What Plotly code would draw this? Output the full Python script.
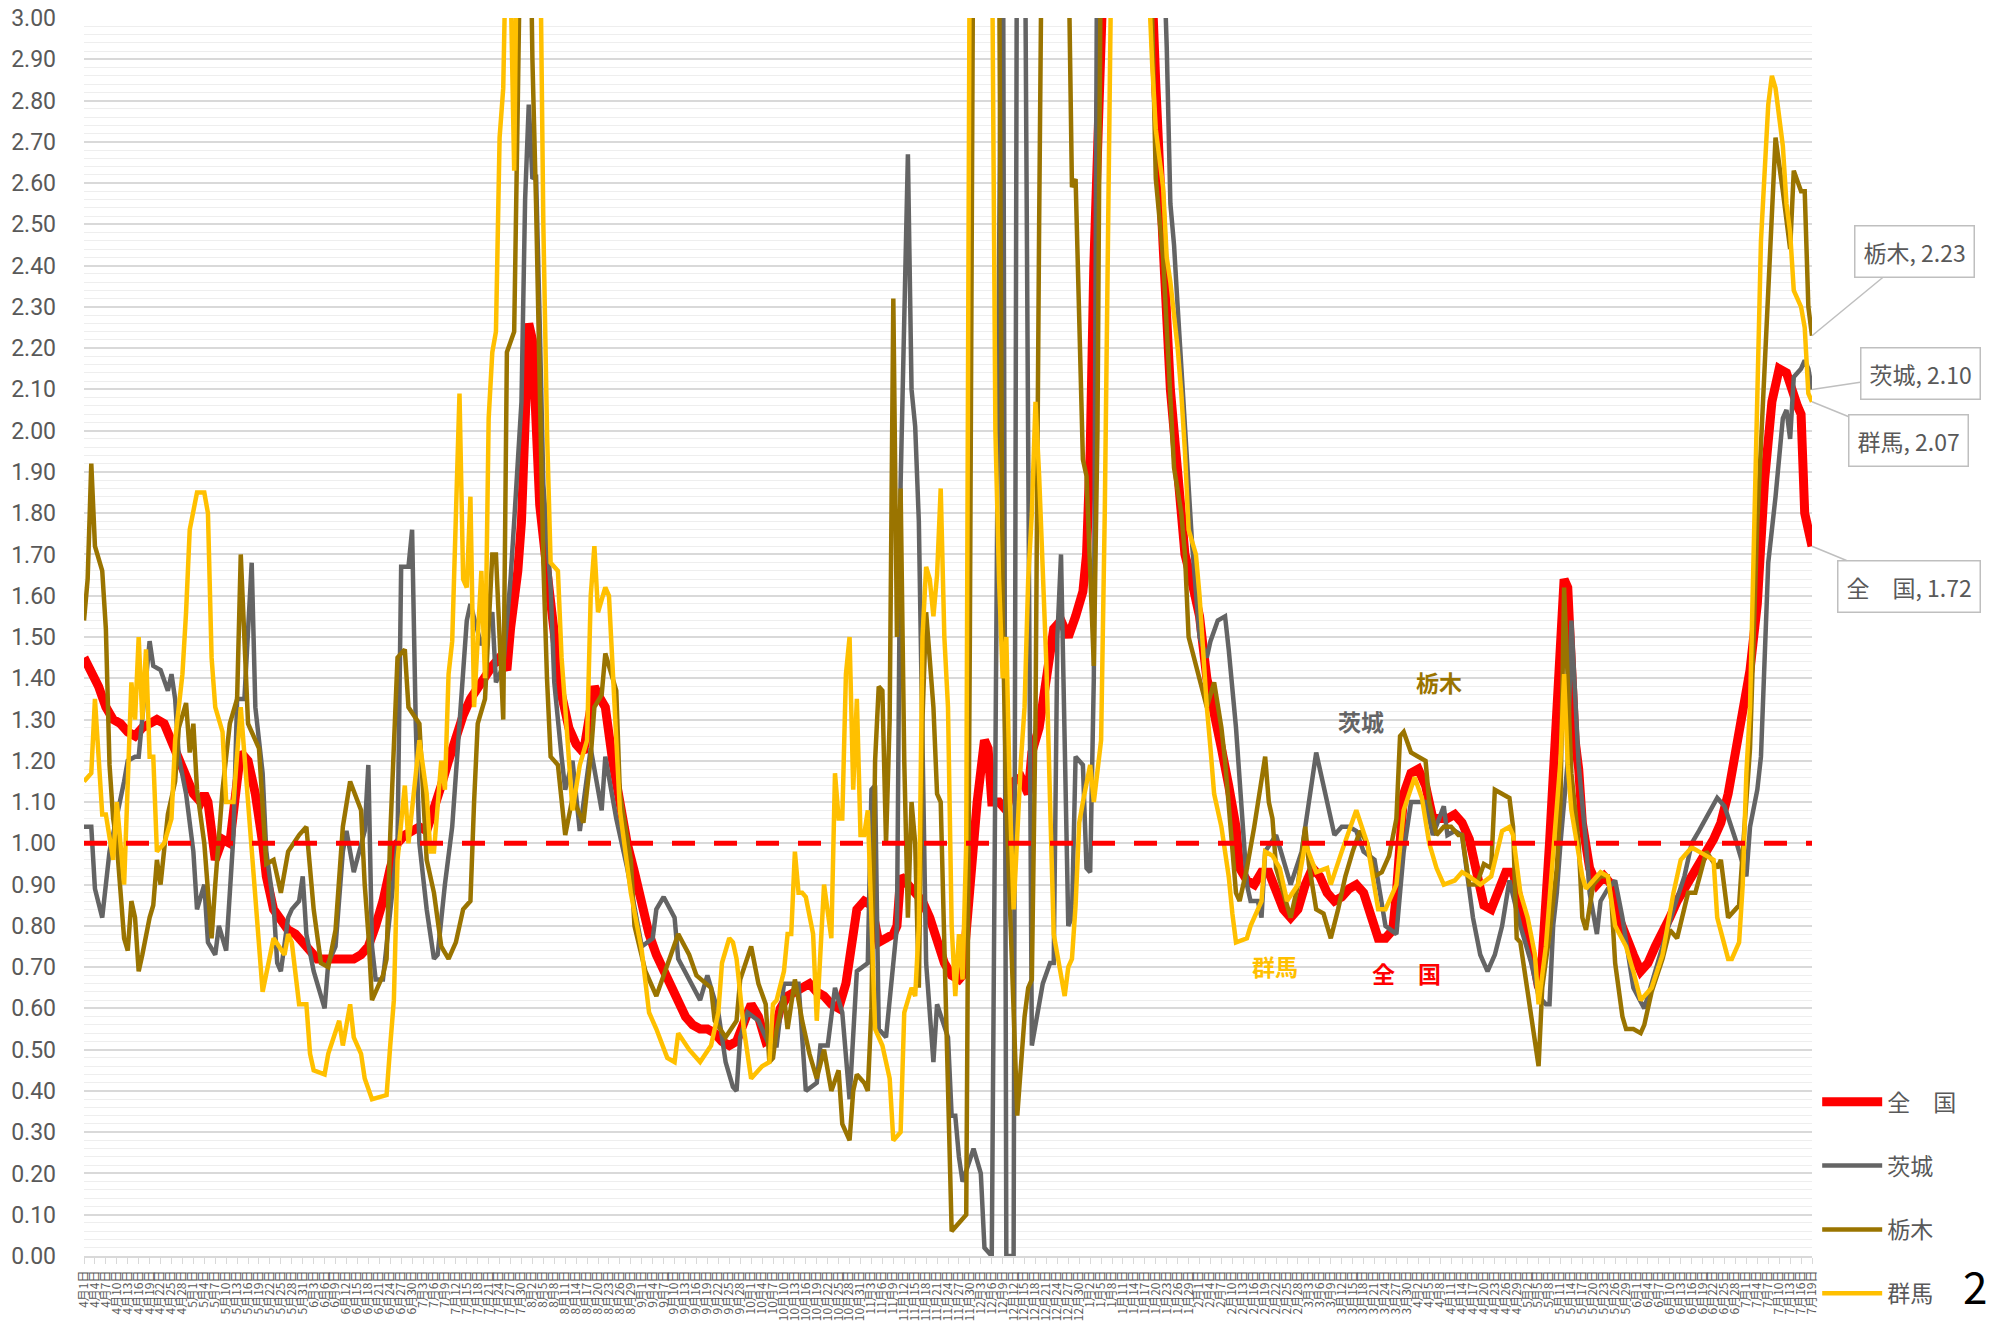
import datetime as dt
import plotly.graph_objects as go

START = dt.date(2020, 4, 1)
LAST_DAY = 474            # 2021-07-19
TICK_STEP = 3             # a label every 3 days
THRESHOLD = 1.0
Y_TICKS = [i / 10 for i in range(0, 31)]

SERIES_NAMES = ["全　国", "茨城", "栃木", "群馬"]
SERIES_COLORS = ["#FF0000", "#646464", "#9A7400", "#FFC000"]
SERIES_WIDTHS = [9, 4.5, 4.5, 4.5]

# (day offset from 2020-04-01, effective reproduction number)
ZENKOKU = [(0,1.45),(2,1.42),(4,1.38),(6,1.33),(8,1.30),(10,1.29),(12,1.27),(14,1.26),(16,1.28),(18,1.29),(20,1.30),(22,1.29),(24,1.25),(26,1.20),(28,1.16),(30,1.12),(32,1.10),(33,1.12),(34,1.10),(35,1.04),(36,0.96),(38,1.01),(40,1.00),(42,1.15),(43,1.22),(45,1.20),(47,1.12),(49,1.00),(50,0.92),(52,0.84),(54,0.81),(56,0.79),(58,0.78),(60,0.76),(62,0.74),(64,0.72),(66,0.72),(68,0.72),(70,0.72),(72,0.72),(74,0.72),(76,0.73),(78,0.75),(80,0.80),(82,0.86),(84,0.94),(86,1.00),(88,1.02),(90,1.03),(92,1.04),(94,1.03),(96,1.08),(98,1.14),(100,1.20),(102,1.26),(104,1.31),(106,1.35),(108,1.38),(110,1.40),(112,1.43),(114,1.45),(116,1.42),(117,1.52),(119,1.66),(120,1.78),(121,2.10),(122,2.26),(123,2.22),(124,1.97),(125,1.82),(127,1.66),(129,1.50),(131,1.36),(133,1.28),(135,1.24),(137,1.22),(138,1.28),(140,1.38),(141,1.36),(143,1.33),(145,1.20),(147,1.09),(149,1.00),(151,0.93),(153,0.85),(155,0.78),(157,0.73),(159,0.69),(161,0.65),(163,0.61),(165,0.58),(167,0.56),(169,0.55),(171,0.55),(173,0.54),(175,0.52),(177,0.51),(179,0.52),(181,0.56),(183,0.61),(185,0.58),(187,0.52),(189,0.53),(191,0.60),(193,0.63),(195,0.64),(197,0.65),(199,0.66),(201,0.64),(203,0.63),(205,0.61),(207,0.60),(209,0.66),(210,0.71),(212,0.84),(214,0.86),(216,0.85),(218,0.76),(220,0.77),(222,0.78),(223,0.80),(224,0.92),(226,0.90),(228,0.88),(230,0.86),(232,0.82),(234,0.77),(236,0.71),(238,0.68),(240,0.67),(241,0.68),(243,0.90),(245,1.10),(247,1.25),(248,1.23),(249,1.10),(251,1.10),(253,1.08),(255,1.15),(257,1.16),(259,1.12),(260,1.22),(262,1.28),(264,1.40),(266,1.52),(268,1.54),(270,1.50),(272,1.55),(274,1.61),(275,1.70),(276,1.95),(277,2.40),(278,2.85),(279,3.15),(281,3.80),(284,4.30),(287,4.40),(290,4.00),(292,3.30),(293,3.00),(294,2.84),(296,2.45),(298,2.10),(300,1.90),(302,1.70),(304,1.63),(306,1.55),(308,1.40),(310,1.30),(312,1.23),(314,1.14),(316,1.04),(317,0.94),(319,0.91),(321,0.90),(323,0.93),(325,0.93),(327,0.88),(329,0.84),(331,0.82),(333,0.84),(335,0.90),(337,0.94),(339,0.92),(341,0.88),(343,0.86),(345,0.87),(347,0.89),(349,0.90),(351,0.88),(353,0.83),(355,0.77),(357,0.77),(359,0.79),(360,0.88),(361,1.05),(362,1.12),(364,1.17),(366,1.18),(368,1.14),(370,1.06),(372,1.06),(374,1.06),(376,1.07),(378,1.05),(380,1.01),(382,0.92),(384,0.85),(386,0.84),(388,0.89),(390,0.93),(392,0.93),(394,0.86),(396,0.79),(398,0.70),(399,0.65),(400,0.72),(402,1.00),(403,1.17),(404,1.40),(405,1.55),(406,1.64),(407,1.62),(408,1.40),(409,1.25),(410,1.18),(411,1.05),(413,0.94),(415,0.90),(417,0.92),(419,0.90),(421,0.82),(423,0.77),(425,0.73),(427,0.69),(429,0.71),(431,0.75),(433,0.78),(435,0.82),(437,0.86),(439,0.89),(441,0.92),(443,0.94),(445,0.98),(447,1.01),(449,1.05),(451,1.12),(453,1.22),(455,1.33),(457,1.42),(459,1.58),(461,1.88),(463,2.07),(465,2.15),(467,2.14),(469,2.08),(470,2.06),(471,2.04),(472,1.80),(473,1.76),(474,1.72)]

IBARAKI = [(0,1.04),(2,1.04),(3,0.89),(5,0.82),(7,0.98),(9,1.06),(11,1.15),(12,1.20),(14,1.21),(15,1.21),(16,1.30),(18,1.49),(19,1.43),(21,1.42),(23,1.37),(24,1.41),(25,1.35),(26,1.21),(28,1.12),(30,0.98),(31,0.84),(33,0.90),(34,0.76),(36,0.73),(37,0.80),(39,0.74),(41,1.02),(42,1.35),(44,1.35),(46,1.68),(47,1.33),(49,1.17),(50,0.98),(52,0.85),(53,0.71),(54,0.69),(56,0.82),(57,0.84),(59,0.86),(60,0.92),(61,0.78),(63,0.69),(66,0.60),(67,0.71),(69,0.75),(70,0.86),(71,0.98),(72,1.03),(74,0.93),(77,1.03),(78,1.19),(79,0.75),(80,0.67),(82,0.67),(84,0.84),(86,1.00),(87,1.67),(89,1.67),(90,1.76),(91,1.29),(92,1.00),(94,0.84),(96,0.72),(97,0.73),(99,0.90),(101,1.04),(103,1.29),(105,1.54),(106,1.58),(109,1.48),(112,1.56),(113,1.39),(115,1.43),(117,1.64),(118,1.78),(120,2.07),(121,2.56),(122,2.79),(123,2.61),(124,2.62),(125,2.26),(126,1.87),(128,1.62),(129,1.39),(131,1.21),(132,1.13),(134,1.20),(136,1.03),(139,1.23),(142,1.08),(143,1.21),(146,1.06),(149,0.94),(153,0.75),(156,0.77),(157,0.84),(159,0.87),(162,0.82),(163,0.72),(167,0.65),(169,0.62),(171,0.68),(174,0.59),(176,0.47),(178,0.41),(179,0.40),(180,0.53),(182,0.59),(185,0.57),(188,0.51),(190,0.51),(192,0.66),(196,0.66),(198,0.40),(201,0.42),(202,0.51),(204,0.51),(206,0.65),(208,0.59),(210,0.38),(212,0.69),(215,0.71),(216,1.13),(217,1.14),(218,0.55),(220,0.53),(222,0.71),(223,0.80),(224,1.87),(226,2.67),(227,2.10),(228,2.01),(229,1.78),(230,1.20),(231,0.71),(233,0.47),(234,0.61),(237,0.53),(238,0.34),(239,0.34),(240,0.24),(241,0.18),(244,0.26),(246,0.20),(247,0.02),(249,0.00),(252,3.60),(253,0.00),(255,0.00),(256,3.60),(258,3.40),(260,0.51),(263,0.66),(265,0.71),(266,0.71),(267,1.50),(268,1.70),(270,0.80),(271,0.82),(272,1.21),(274,1.19),(275,0.94),(276,0.93),(277,1.40),(278,3.40),(281,4.50),(285,5.00),(290,4.50),(294,3.80),(296,3.20),(297,2.93),(298,2.55),(299,2.45),(300,2.30),(302,2.00),(303,1.85),(304,1.72),(306,1.50),(308,1.45),(309,1.49),(311,1.54),(313,1.55),(314,1.47),(316,1.28),(318,1.05),(319,0.90),(320,0.86),(322,0.86),(323,0.82),(324,0.98),(327,1.02),(329,0.96),(331,0.90),(334,0.98),(336,1.10),(338,1.22),(340,1.14),(343,1.02),(345,1.04),(347,1.04),(349,1.03),(351,0.98),(354,0.96),(356,0.86),(357,0.80),(360,0.78),(362,0.98),(364,1.10),(366,1.10),(368,1.10),(370,1.02),(373,1.09),(374,1.02),(376,1.03),(378,1.02),(380,0.88),(381,0.82),(383,0.73),(385,0.69),(387,0.73),(389,0.80),(391,0.91),(394,0.80),(397,0.71),(399,0.63),(401,0.61),(402,0.61),(403,0.80),(404,0.88),(405,1.00),(407,1.20),(408,1.54),(409,1.35),(410,1.19),(412,1.00),(413,0.88),(415,0.78),(416,0.86),(418,0.89),(420,0.91),(422,0.82),(425,0.65),(428,0.60),(430,0.66),(433,0.75),(436,0.84),(439,0.92),(441,1.00),(443,1.03),(446,1.08),(448,1.11),(450,1.09),(453,1.01),(456,0.92),(457,1.04),(459,1.13),(460,1.21),(462,1.68),(464,1.84),(466,2.03),(467,2.05),(468,1.98),(469,2.13),(471,2.15),(472,2.17),(473,2.15),(474,2.10)]

TOCHIGI = [(0,1.54),(1,1.64),(2,1.92),(3,1.72),(5,1.66),(6,1.52),(7,1.19),(8,1.06),(9,1.00),(10,0.88),(11,0.77),(12,0.74),(13,0.86),(14,0.82),(15,0.69),(16,0.73),(18,0.82),(19,0.85),(20,0.96),(21,0.90),(22,1.00),(23,1.07),(25,1.15),(26,1.28),(28,1.34),(29,1.22),(30,1.29),(31,1.13),(33,1.00),(35,0.77),(36,0.90),(38,1.13),(40,1.29),(42,1.35),(43,1.70),(45,1.29),(47,1.25),(48,1.23),(50,0.95),(52,0.96),(54,0.88),(56,0.98),(59,1.02),(61,1.04),(63,0.84),(65,0.71),(67,0.70),(69,0.79),(71,1.04),(73,1.15),(76,1.08),(77,0.90),(78,0.78),(79,0.62),(82,0.68),(83,0.72),(84,1.02),(86,1.45),(88,1.47),(89,1.33),(92,1.29),(93,1.10),(94,0.96),(96,0.88),(98,0.75),(100,0.72),(102,0.76),(104,0.84),(106,0.86),(107,1.10),(108,1.29),(110,1.35),(112,1.70),(113,1.70),(115,1.30),(116,2.19),(118,2.24),(119,2.80),(120,3.40),(122,3.50),(123,2.90),(124,2.55),(125,2.07),(126,1.68),(127,1.40),(128,1.21),(130,1.19),(132,1.02),(134,1.11),(136,1.07),(137,1.05),(139,1.21),(140,1.33),(142,1.36),(143,1.46),(146,1.37),(147,1.12),(150,0.96),(151,0.80),(154,0.69),(157,0.63),(161,0.73),(163,0.78),(166,0.73),(168,0.68),(172,0.65),(173,0.57),(176,0.53),(179,0.57),(180,0.67),(183,0.75),(185,0.66),(187,0.61),(188,0.47),(189,0.48),(190,0.55),(192,0.63),(193,0.55),(195,0.67),(197,0.57),(199,0.49),(201,0.43),(203,0.50),(205,0.40),(207,0.45),(208,0.32),(210,0.28),(211,0.40),(212,0.44),(214,0.42),(215,0.40),(216,0.60),(217,1.20),(218,1.38),(219,1.37),(220,1.00),(221,1.30),(222,2.32),(223,1.50),(224,1.86),(225,1.20),(226,0.82),(227,1.10),(228,1.00),(229,0.65),(230,1.30),(231,1.56),(233,1.33),(234,1.12),(235,1.10),(237,0.36),(238,0.06),(240,0.08),(242,0.10),(243,1.50),(244,3.40),(247,4.00),(250,3.60),(251,3.20),(252,1.55),(253,1.10),(256,0.34),(258,0.58),(259,0.65),(260,0.67),(261,1.30),(262,2.50),(263,3.50),(266,4.50),(269,3.60),(270,3.20),(271,2.59),(272,2.61),(274,1.93),(275,1.89),(277,1.43),(278,2.00),(279,3.30),(282,4.20),(286,4.50),(290,4.00),(292,3.40),(293,3.00),(294,2.61),(296,2.42),(297,2.25),(299,1.91),(301,1.80),(302,1.70),(303,1.50),(305,1.43),(307,1.36),(308,1.33),(310,1.39),(312,1.28),(313,1.20),(314,1.10),(316,0.88),(317,0.86),(319,0.94),(321,1.04),(323,1.15),(324,1.21),(325,1.10),(326,1.06),(327,0.94),(329,0.88),(331,0.82),(333,0.90),(335,1.04),(336,0.95),(338,0.84),(340,0.83),(342,0.77),(344,0.84),(346,0.92),(348,0.98),(350,1.03),(352,1.00),(354,0.92),(356,0.93),(358,0.97),(360,1.06),(361,1.26),(362,1.27),(364,1.22),(366,1.21),(368,1.20),(369,1.10),(371,1.02),(373,1.04),(375,1.04),(377,1.02),(378,1.02),(380,0.90),(382,0.90),(384,0.95),(386,0.94),(387,1.13),(389,1.12),(391,1.11),(392,1.04),(393,0.77),(394,0.76),(397,0.59),(399,0.46),(400,0.65),(402,0.78),(404,0.94),(405,1.10),(406,1.62),(407,1.40),(408,1.17),(410,1.00),(411,0.82),(412,0.79),(414,0.90),(416,0.92),(418,0.92),(419,0.86),(420,0.71),(422,0.58),(423,0.55),(425,0.55),(427,0.54),(428,0.56),(430,0.64),(433,0.72),(435,0.79),(437,0.77),(440,0.88),(442,0.88),(445,0.98),(448,0.94),(449,0.96),(451,0.82),(454,0.85),(455,0.98),(457,1.23),(459,1.78),(462,2.32),(463,2.52),(464,2.71),(466,2.58),(468,2.44),(469,2.63),(471,2.58),(472,2.58),(473,2.30),(474,2.23)]

GUNMA = [(0,1.15),(2,1.17),(3,1.35),(5,1.07),(6,1.07),(8,0.96),(9,1.10),(11,0.90),(13,1.39),(14,1.30),(15,1.50),(16,1.30),(17,1.47),(18,1.21),(19,1.21),(20,0.98),(22,1.00),(24,1.06),(25,1.25),(27,1.41),(28,1.56),(29,1.76),(31,1.85),(33,1.85),(34,1.80),(35,1.45),(36,1.33),(38,1.27),(39,1.10),(41,1.10),(43,1.33),(45,1.10),(47,0.85),(48,0.77),(49,0.64),(52,0.77),(55,0.73),(56,0.78),(57,0.76),(59,0.61),(61,0.61),(62,0.49),(63,0.45),(66,0.44),(67,0.49),(70,0.57),(71,0.51),(73,0.61),(74,0.53),(76,0.49),(77,0.43),(79,0.38),(83,0.39),(84,0.51),(85,0.62),(86,0.96),(88,1.14),(89,1.00),(92,1.25),(94,1.12),(95,0.98),(96,0.98),(98,1.20),(99,1.13),(100,1.41),(101,1.49),(103,2.09),(104,1.64),(105,1.62),(106,1.84),(107,1.33),(109,1.66),(110,1.40),(111,2.03),(112,2.19),(113,2.24),(114,2.71),(115,2.83),(116,3.30),(117,3.10),(118,2.63),(119,3.40),(121,4.00),(123,4.20),(125,3.30),(126,2.50),(127,2.00),(128,1.68),(130,1.66),(131,1.45),(132,1.33),(134,1.08),(136,1.19),(138,1.25),(139,1.60),(140,1.72),(141,1.56),(143,1.62),(144,1.60),(145,1.41),(147,1.08),(150,0.88),(153,0.74),(155,0.59),(157,0.55),(160,0.48),(162,0.47),(163,0.54),(166,0.50),(169,0.47),(172,0.51),(174,0.59),(175,0.71),(177,0.77),(178,0.76),(179,0.72),(181,0.55),(183,0.43),(186,0.46),(188,0.47),(189,0.61),(190,0.62),(192,0.69),(193,0.78),(194,0.78),(195,0.98),(196,0.88),(197,0.88),(198,0.87),(200,0.78),(201,0.57),(203,0.90),(205,0.77),(206,1.17),(207,1.06),(208,1.06),(209,1.41),(210,1.50),(211,1.13),(212,1.35),(213,1.02),(214,1.02),(215,1.08),(217,0.55),(219,0.51),(221,0.43),(222,0.28),(224,0.30),(225,0.59),(227,0.65),(228,0.63),(229,0.80),(230,1.50),(231,1.67),(232,1.64),(233,1.55),(234,1.65),(235,1.86),(236,1.50),(237,1.33),(238,0.80),(239,0.63),(240,0.78),(241,0.67),(242,1.00),(243,3.30),(246,4.00),(249,3.30),(250,2.00),(251,1.64),(252,1.40),(253,1.50),(254,1.10),(255,0.84),(256,1.05),(257,1.20),(258,1.33),(259,1.64),(260,1.80),(261,2.07),(262,1.89),(264,1.43),(265,1.10),(266,0.78),(268,0.68),(269,0.63),(270,0.70),(271,0.72),(272,0.85),(273,1.05),(274,1.10),(276,1.19),(277,1.10),(279,1.25),(280,1.80),(281,2.50),(282,3.30),(285,4.20),(288,4.40),(291,3.60),(292,3.10),(293,2.89),(294,2.73),(296,2.59),(297,2.42),(298,2.36),(300,2.20),(301,2.09),(302,1.95),(303,1.76),(305,1.70),(306,1.60),(307,1.45),(308,1.33),(309,1.23),(310,1.12),(312,1.04),(313,0.98),(314,0.92),(315,0.83),(316,0.76),(319,0.77),(320,0.80),(323,0.86),(324,0.98),(326,0.97),(328,0.94),(330,0.86),(333,0.90),(335,1.00),(338,0.93),(341,0.94),(342,0.90),(345,0.98),(348,1.06),(349,1.08),(352,1.00),(355,0.84),(357,0.84),(360,0.90),(362,1.08),(365,1.16),(367,1.11),(369,1.00),(371,0.94),(373,0.90),(376,0.91),(378,0.93),(380,0.92),(383,0.90),(386,0.92),(388,1.00),(389,1.03),(391,1.04),(392,1.02),(394,0.88),(396,0.82),(398,0.73),(399,0.61),(401,0.75),(402,0.86),(403,0.96),(405,1.20),(406,1.41),(407,1.19),(408,1.08),(411,0.92),(412,0.89),(416,0.93),(418,0.92),(420,0.80),(423,0.75),(425,0.69),(427,0.62),(430,0.65),(433,0.73),(436,0.88),(438,0.96),(441,0.99),(443,0.98),(445,0.97),(447,0.96),(448,0.82),(451,0.72),(452,0.72),(454,0.76),(455,0.90),(456,1.17),(457,1.33),(458,1.68),(459,2.03),(460,2.46),(462,2.79),(463,2.86),(464,2.83),(466,2.69),(467,2.55),(468,2.48),(469,2.34),(471,2.30),(472,2.25),(473,2.09),(474,2.07)]

SERIES_DATA = [ZENKOKU, IBARAKI, TOCHIGI, GUNMA]

# callout offsets (px) of the end-value labels, per series
CALLOUT_OFFSETS = [(97, 40), (108, -16), (102, -84), (96, 39)]

FONT = "Noto Sans CJK JP"
NUM_FONT = "Roboto"
GREY_TEXT = "#595959"


def day_to_date(d):
    return (START + dt.timedelta(days=d)).isoformat()


fig = go.Figure()
for name, data, color, width in zip(SERIES_NAMES, SERIES_DATA, SERIES_COLORS, SERIES_WIDTHS):
    xs = [day_to_date(d) for d, _ in data]
    ys = [v for _, v in data]
    fig.add_trace(go.Scatter(
        x=xs, y=ys, mode="lines", name=name, legendgroup=name,
        line=dict(color=color, width=width),
    ))

tick_days = list(range(0, LAST_DAY + 1, TICK_STEP))
tick_vals = [day_to_date(d) for d in tick_days]
tick_text = []
for d in tick_days:
    day = START + dt.timedelta(days=d)
    tick_text.append(f"{day.month}月{day.day}日")

fig.add_hline(y=THRESHOLD, line=dict(color="#FF0000", width=5, dash="23px,19px"), layer="above")

# end-of-series callouts
for name, data, (ax, ay) in zip(SERIES_NAMES, SERIES_DATA, CALLOUT_OFFSETS):
    d, v = data[-1]
    fig.add_annotation(
        x=day_to_date(d), y=v, xref="x", yref="y",
        text=f"{name}, {v:.2f}", showarrow=True, arrowhead=0, arrowwidth=1.5,
        arrowcolor="#BFBFBF", ax=ax, ay=ay, bgcolor="white",
        bordercolor="#BFBFBF", borderwidth=1.5, borderpad=8,
        font=dict(family=FONT, size=23, color=GREY_TEXT),
    )

# in-plot series labels
for text, color, px, py in [("茨城", "#646464", 0.739, 0.432),
                            ("栃木", "#9A7400", 0.784, 0.464),
                            ("群馬", "#FFC000", 0.689, 0.234),
                            ("全　国", "#FF0000", 0.7656, 0.2286)]:
    fig.add_annotation(x=px, y=py, xref="paper", yref="paper", showarrow=False,
                       xanchor="center", yanchor="middle",
                       text=f"<b>{text}</b>", font=dict(family=FONT, size=23, color=color))

fig.add_annotation(x=1.1025, y=-0.0234, xref="paper", yref="paper", showarrow=False,
                   xanchor="right", yanchor="middle", text="2",
                   font=dict(family=FONT, size=44, color="black"))

fig.update_layout(
    width=1991, height=1333,
    margin=dict(l=84, r=179, t=18, b=77, autoexpand=False),
    paper_bgcolor="white", plot_bgcolor="white",
    font=dict(family=FONT, color=GREY_TEXT),
    showlegend=True,
    legend=dict(x=1.003, y=0.142, xanchor="left", yanchor="top",
                font=dict(family=FONT, size=23, color=GREY_TEXT),
                tracegroupgap=31, itemwidth=60, bgcolor="rgba(0,0,0,0)"),
    xaxis=dict(
        type="date", range=[day_to_date(0), day_to_date(LAST_DAY)],
        tickmode="array", tickvals=tick_vals, ticktext=tick_text, tickangle=-90,
        tickfont=dict(family=FONT, size=12, color=GREY_TEXT),
        ticks="outside", ticklen=6, tickcolor="#D9D9D9", tickwidth=1,
        showgrid=False, showline=True, linecolor="#D9D9D9", linewidth=1.5,
        zeroline=False, automargin=False, ticklabelstandoff=2,
        ticklabeloverflow="allow",
    ),
    yaxis=dict(
        range=[0, 3], tickmode="array", tickvals=Y_TICKS, tickformat=".2f",
        tickfont=dict(family=NUM_FONT, size=23, color=GREY_TEXT),
        showgrid=True, gridcolor="#D9D9D9", gridwidth=1.5,
        minor=dict(dtick=0.02, tick0=0, showgrid=True, gridcolor="#EEEEEE", gridwidth=1.2),
        zeroline=False, showline=False, ticks="", automargin=False,
        ticklabelstandoff=27, ticklabeloverflow="allow",
    ),
)

# remove the default page margin so the figure fills the window exactly
fig.write_html("out.html", config={"displayModeBar": False},
               post_script="document.body.style.margin='0';")
